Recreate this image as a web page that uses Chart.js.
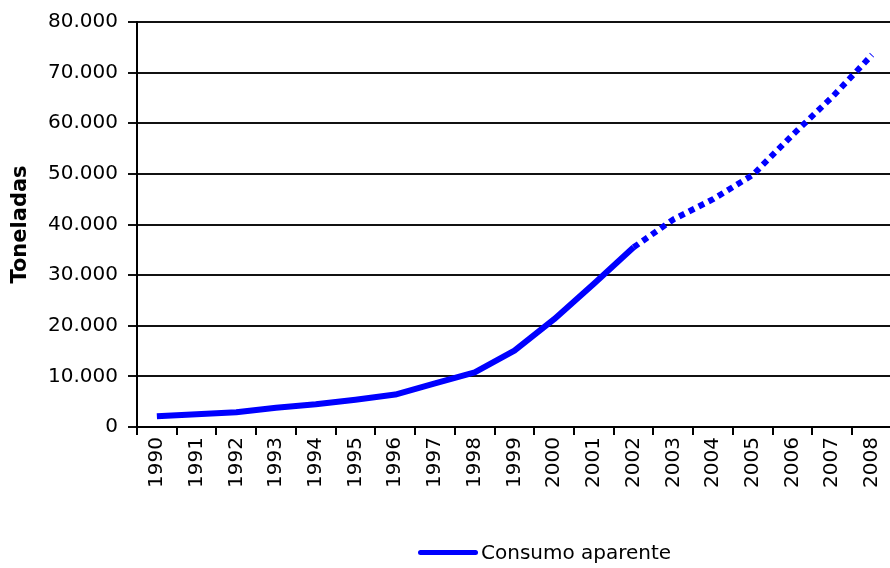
<!DOCTYPE html>
<html>
<head>
<meta charset="utf-8">
<script src="https://cdn.jsdelivr.net/npm/chart.js@4"></script>
<style>
    html, body { margin: 0; padding: 0; background: #fff; overflow: hidden; }
    #wrap { position: relative; width: 898px; height: 568px; }
    #legend {
        position: absolute; left: 418px; top: 540px;
        font: 20px "DejaVu Sans", Verdana, sans-serif; color: #000;
        display: flex; align-items: center; white-space: nowrap;
    }
    #legend .swatch {
        display: inline-block; width: 60px; height: 5px; border-radius: 3px;
        background: #0000ff; margin-right: 3px;
    }
</style>
</head>
<body>
<div id="wrap">
    <canvas id="chart" width="898" height="568"></canvas>
    <div id="legend"><span class="swatch"></span><span>Consumo aparente</span></div>
</div>
<script>
// Consumo aparente (toneladas) - real to 2002, projection after
const years = ['1990', '1991', '1992', '1993', '1994', '1995', '1996', '1997', '1998', '1999',
    '2000', '2001', '2002', '2003', '2004', '2005', '2006', '2007', '2008'];
const consumo = [2100, 2500, 2900, 3800, 4500, 5400, 6400, 8600, 10800, 15100,
    21300, 28300, 35500, 41000, 45000, 49800, 57700, 65200, 73500];
const lastRealIndex = 12;   // 2002, dotted line after this
const yTicks = [0, 10000, 20000, 30000, 40000, 50000, 60000, 70000, 80000];

const fmt = v => String(v).replace(/\B(?=(\d{3})+(?!\d))/g, '.');
const FONT = '"DejaVu Sans", Verdana, sans-serif';

new Chart(document.getElementById('chart'), {
    type: 'line',
    data: {
        labels: years,
        datasets: [{
            label: 'Consumo aparente',
            data: consumo,
            borderColor: '#0000ff',
            borderWidth: 6,
            borderCapStyle: 'butt',
            borderJoinStyle: 'round',
            pointRadius: 0,
            tension: 0,
            segment: {
                borderDash: ctx => ctx.p0DataIndex >= lastRealIndex ? [6, 5] : undefined
            }
        }]
    },
    options: {
        responsive: false,
        animation: false,
        layout: {padding: {top: 22, right: 0, left: 0, bottom: 0}},
        plugins: {
            legend: {display: false},
            tooltip: {enabled: false}
        },
        scales: {
            x: {
                type: 'category',
                offset: true,
                afterFit: (scale) => { scale.height = 141; },
                border: {color: '#000', width: 2},
                grid: {drawOnChartArea: false, drawTicks: true, tickLength: 8, color: '#000', lineWidth: 2, offset: true},
                ticks: {
                    autoSkip: false, minRotation: 90, maxRotation: 90, padding: 2,
                    color: '#000', font: {family: FONT, size: 20}
                }
            },
            y: {
                min: 0,
                max: 80000,
                afterFit: (scale) => { scale.width = 137; },
                afterBuildTicks: (scale) => { scale.ticks = yTicks.map(v => ({value: v})); },
                border: {color: '#000', width: 2},
                grid: {color: '#111', lineWidth: 2, tickLength: 9},
                ticks: {
                    padding: 10, color: '#000', font: {family: FONT, size: 20},
                    callback: (value) => fmt(value)
                },
                title: {
                    display: true, text: 'Toneladas', color: '#000',
                    font: {family: FONT, size: 21, weight: 'bold'},
                    padding: {top: 8, bottom: 0}
                }
            }
        }
    }
});
</script>
</body>
</html>
